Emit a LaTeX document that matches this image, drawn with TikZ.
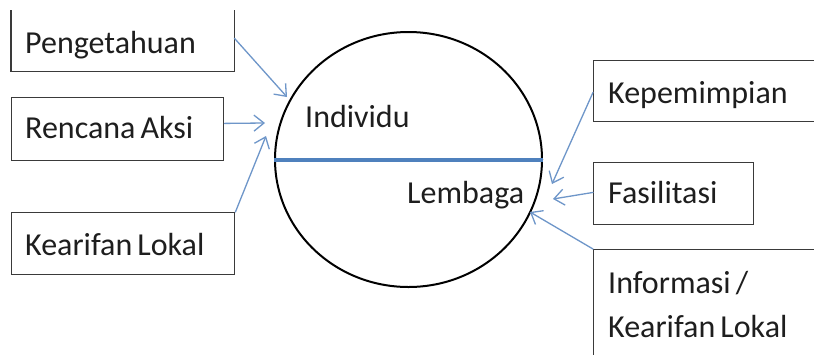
\documentclass[tikz,border=0pt]{standalone}
\usepackage{fontspec}
\setmainfont{Carlito}
\usetikzlibrary{shapes.geometric,arrows.meta,calc}
\definecolor{boxgray}{HTML}{3A3A3A}
\definecolor{txtgray}{HTML}{1E1E1E}
\definecolor{barblue}{HTML}{4F81BD}
\definecolor{arrblue}{HTML}{6E96C9}
\newcommand\mytxtfont{\fontsize{32}{38}\selectfont\spaceskip=0.16em\relax}
\begin{document}
\begin{tikzpicture}[x=1pt,y=-1pt,
  box/.style={draw=boxgray,line width=1.4pt,rectangle,inner sep=0pt,anchor=north west},
  openbox/.style={rectangle,inner sep=0pt,anchor=north west},
  txt/.style={text=txtgray,inner sep=0pt,anchor=base west,font=\mytxtfont},
  conn/.style={draw=arrblue,line width=1.3pt,line cap=round,-{Straight Barb[length=10pt,width=16pt,line width=1.3pt]}}
]
\clip (0,0) rectangle (814,354);
\fill[white] (0,0) rectangle (814,354);

% left boxes
\node[openbox,minimum width=223pt,minimum height=61pt] (peng) at (11,10) {};
\draw[draw=boxgray,line width=1.4pt] (peng.north west) -- (peng.south west) -- (peng.south east) -- (peng.north east);
\node[txt] (tpeng) at (25,53) {Pengetahuan};

\node[box,minimum width=212pt,minimum height=63pt] (renc) at (11,97) {};
\node[txt] (trenc) at (25,138) {Rencana Aksi};

\node[box,minimum width=223pt,minimum height=62pt] (kear) at (11,212) {};
\node[txt] (tkear) at (25,255) {Kearifan Lokal};

% right boxes
\node[box,minimum width=237pt,minimum height=61pt] (kep) at (593,60) {};
\node[txt] (tkep) at (608,103) {Kepemimpian};

\node[box,minimum width=160pt,minimum height=62pt] (fas) at (593,162) {};
\node[txt] (tfas) at (608,203) {Fasilitasi};

\node[box,minimum width=237pt,minimum height=125pt] (info) at (593,249) {};
\node[txt] (tinfo1) at (608,293) {Informasi /};
\node[txt] (tinfo2) at (608,337) {Kearifan Lokal};

% circle
\node[ellipse,draw=black,line width=2pt,minimum width=267pt,minimum height=255pt,inner sep=0pt] (circ) at (408.5,159.5) {};
\draw[barblue,line width=4pt] (circ.west) -- (circ.east);
\node[txt] (tind) at (305,127) {Individu};
\node[txt] (tlem) at (407,203) {Lembaga};

% arrow tips
\coordinate (t1) at (287,97);
\coordinate (t2) at (265,123);
\coordinate (t3) at (266,136);
\coordinate (t4) at (552,184);
\coordinate (t5) at (553,199);
\coordinate (t6) at (530,212);

\draw[conn] ($(peng.north east)!0.46!(peng.south east)$) -- (t1);
\draw[conn] ($(renc.north east)!0.41!(renc.south east)$) -- (t2);
\draw[conn] (kear.north east) -- (t3);
\draw[conn] ($(kep.north west)!0.52!(kep.south west)$) -- (t4);
\draw[conn] ($(fas.north west)!0.48!(fas.south west)$) -- (t5);
\draw[conn] (info.north west) -- (t6);
\end{tikzpicture}
\end{document}
